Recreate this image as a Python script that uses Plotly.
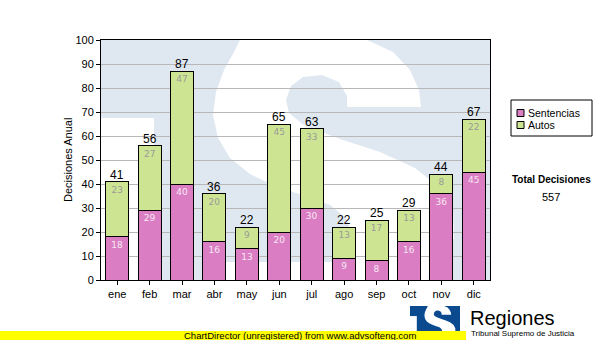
import plotly.graph_objects as go

# ---- data -------------------------------------------------------------
meses = ["ene", "feb", "mar", "abr", "may", "jun", "jul", "ago", "sep", "oct", "nov", "dic"]
sentencias = [18, 29, 40, 16, 13, 20, 30, 9, 8, 16, 36, 45]
autos = [23, 27, 47, 20, 9, 45, 33, 13, 17, 13, 8, 22]
totales = [s + a for s, a in zip(sentencias, autos)]
total_decisiones = sum(totales)

# ---- layout geometry (pixels) ----------------------------------------
W, H = 600, 340
PL, PR, PT, PB = 101, 490, 40, 280

PINK = "#db7dc3"
GREEN = "#cde592"
WASH = "#dfe8f1"
LOGO_BLUE = "#0c4a8f"


def paper(px, py):
    """Pixel position on the page -> paper coordinates of the plot area."""
    return (px - PL) / (PR - PL), (PB - py) / (PB - PT)


# Outline of the "S" emblem, in unit-box coordinates (u right, v down)
_S_OUTLINE_PX = [
    (240, 40), (367, 40), (393, 52), (410, 70), (419, 90), (421, 107),
    (347, 107), (347, 96), (339, 82), (322, 75), (303, 77), (291, 86),
    (286, 100), (289, 113), (305, 126), (340, 139), (380, 152), (415, 168),
    (440, 188), (453, 212), (454, 238), (444, 262), (428, 280),
    (216, 280), (216, 262), (352, 262), (353, 238), (346, 218), (330, 205),
    (305, 196), (275, 186), (250, 174), (230, 158), (218, 138), (213, 115),
    (216, 92), (224, 70), (234, 52),
]
S_UV = [((x - PL) / (PR - PL), (y - PT) / (PB - PT)) for x, y in _S_OUTLINE_PX]
NOTCH_UV = ((0.0, (118 - PT) / (PB - PT)), ((154 - PL) / (PR - PL), 1.0))


def emblem_shapes(x0, y0, w, h, base, mark, layer):
    """Square emblem with a white notch and an S cut-out, placed in a pixel box."""
    def pt(u, v):
        return paper(x0 + u * w, y0 + v * h)

    shapes = []
    a = pt(0, 1)
    b = pt(1, 0)
    shapes.append(dict(type="rect", xref="paper", yref="paper", x0=a[0], y0=a[1],
                       x1=b[0], y1=b[1], fillcolor=base, line_width=0, layer=layer))
    (nu0, nv0), (nu1, nv1) = NOTCH_UV
    a = pt(nu0, nv1)
    b = pt(nu1, nv0)
    shapes.append(dict(type="rect", xref="paper", yref="paper", x0=a[0], y0=a[1],
                       x1=b[0], y1=b[1], fillcolor=mark, line_width=0, layer=layer))
    pts = [pt(u, v) for u, v in S_UV]
    path = "M " + " L ".join(f"{x:.4f},{y:.4f}" for x, y in pts) + " Z"
    shapes.append(dict(type="path", xref="paper", yref="paper", path=path,
                       fillcolor=mark, line_width=0, layer=layer))
    return shapes


fig = go.Figure()

fig.add_trace(go.Bar(
    name="Sentencias", x=meses, y=sentencias,
    marker=dict(color=PINK, line=dict(color="black", width=1)),
    text=[str(v) for v in sentencias], textposition="inside",
    insidetextanchor="end", textangle=0,
    textfont=dict(family="DejaVu Sans", size=9, color="#f6e8f3"),
    hoverinfo="skip",
))
fig.add_trace(go.Bar(
    name="Autos", x=meses, y=autos,
    marker=dict(color=GREEN, line=dict(color="black", width=1)),
    text=[str(v) for v in autos], textposition="inside",
    insidetextanchor="end", textangle=0,
    textfont=dict(family="DejaVu Sans", size=9, color="#9a9a9a"),
    hoverinfo="skip",
))

annotations = []
# totals above each stack
for m, t in zip(meses, totales):
    annotations.append(dict(xref="x", yref="y", x=m, y=t, text=str(t),
                            showarrow=False, xanchor="center", yanchor="bottom",
                            borderpad=0, yshift=-1,
                            font=dict(family="Liberation Sans, Arial", size=12, color="black")))

shapes = []
# watermark emblem filling the plot area
shapes += emblem_shapes(PL, PT, PR - PL, PB - PT, WASH, "white", "below")
# emblem next to the "Regiones" caption
shapes += emblem_shapes(410, 306, 50, 31, LOGO_BLUE, "white", "above")
# footer banner
a = paper(0, 340)
b = paper(466, 331)
shapes.append(dict(type="rect", xref="paper", yref="paper", x0=a[0], y0=a[1],
                   x1=b[0], y1=b[1], fillcolor="#ffff00", line_width=0, layer="above"))

# legend box
a = paper(511, 136)
b = paper(592, 100)
shapes.append(dict(type="rect", xref="paper", yref="paper", x0=a[0], y0=a[1],
                   x1=b[0], y1=b[1], fillcolor="white",
                   line=dict(color="black", width=1), layer="above"))
legend_rows = [("Sentencias", PINK, 113), ("Autos", GREEN, 125)]
for label, color, cy in legend_rows:
    a = paper(517, cy + 3.5)
    b = paper(524, cy - 3.5)
    shapes.append(dict(type="rect", xref="paper", yref="paper", x0=a[0], y0=a[1],
                       x1=b[0], y1=b[1], fillcolor=color,
                       line=dict(color="black", width=1), layer="above"))
    tx, ty = paper(526, cy)
    annotations.append(dict(xref="paper", yref="paper", x=tx, y=ty, text=label,
                            showarrow=False, xanchor="left", yanchor="middle",
                            font=dict(family="Liberation Sans, Arial", size=10.5, color="black")))


def note(px, py, text, size, xanchor="center", angle=0, family="Liberation Sans, Arial",
         color="black"):
    x, y = paper(px, py)
    annotations.append(dict(xref="paper", yref="paper", x=x, y=y, text=text,
                            showarrow=False, xanchor=xanchor, yanchor="middle",
                            borderpad=0, textangle=angle,
                            font=dict(family=family, size=size, color=color)))


note(68, 160, "Decisiones Anual", 11, angle=-90)
note(551, 179, "<b>Total Decisiones</b>", 10)
note(551, 197, str(total_decisiones), 11)
note(469, 318, "Regiones", 20, xanchor="left")
note(470, 333, "Tribunal Supremo de Justicia", 8, xanchor="left")
note(300, 335, "ChartDirector (unregistered) from www.advsofteng.com", 9.5)

fig.update_layout(
    width=W, height=H,
    margin=dict(l=PL, r=W - PR, t=PT, b=H - PB, pad=0),
    barmode="stack", bargap=0.29,
    plot_bgcolor="rgba(0,0,0,0)", paper_bgcolor="white",
    showlegend=False,
    shapes=shapes, annotations=annotations,
    font=dict(family="Liberation Sans, Arial", size=11, color="black"),
)
fig.update_xaxes(
    type="category", range=[-0.5, len(meses) - 0.5],
    showline=True, linecolor="black", linewidth=1, mirror=True,
    ticks="outside", ticklen=4, tickcolor="black", showgrid=False,
    tickfont=dict(size=11, color="black"),
)
fig.update_yaxes(
    range=[0, 100], dtick=10, showline=True, linecolor="black", linewidth=1, mirror=True,
    ticks="outside", ticklen=4, tickcolor="black",
    showgrid=True, gridcolor="#b8b8b8", gridwidth=1, zeroline=False,
    tickfont=dict(size=11, color="black"),
)

fig.write_html("out.html")
